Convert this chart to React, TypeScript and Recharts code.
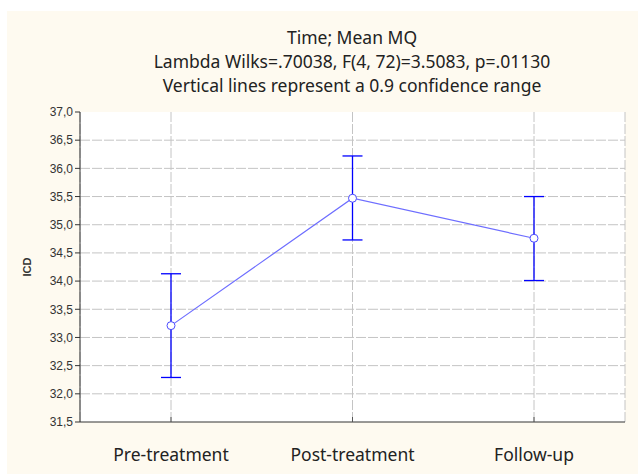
import {
  ComposedChart,
  Line,
  ErrorBar,
  XAxis,
  YAxis,
  CartesianGrid,
  ReferenceLine,
} from "recharts";

const categories = ["Pre-treatment", "Post-treatment", "Follow-up"];
const means = [33.21, 35.47, 34.76];
const ciLow = [32.29, 34.73, 34.01];
const ciHigh = [34.13, 36.22, 35.5];
const yTicks = [31.5, 32, 32.5, 33, 33.5, 34, 34.5, 35, 35.5, 36, 36.5, 37];
const titleLines = [
  "Time; Mean MQ",
  "Lambda Wilks=.70038, F(4, 72)=3.5083, p=.01130",
  "Vertical lines represent a 0.9 confidence range",
];

const data = categories.map((cat, i) => ({
  cat,
  mean: means[i],
  err: [means[i] - ciLow[i], ciHigh[i] - means[i]],
}));

const FONT = "'Noto Sans', sans-serif";
const GRID = "#c4c4c4";
const LINE_COLOR = "#6e6eff";
const BAR_COLOR = "#0000ff";

function CatTick({ x, y, payload }: { x?: number; y?: number; payload?: { value: string } }) {
  if (x == null || y == null || !payload) return null;
  return (
    <g>
      {/* small inward tick on the bottom frame */}
      <line x1={x} y1={y} x2={x} y2={y - 5} stroke="#555" strokeWidth={1} />
      <text
        x={x}
        y={y + 39}
        textAnchor="middle"
        fontFamily={FONT}
        fontSize={17.5}
        fill="#222"
      >
        {payload.value}
      </text>
    </g>
  );
}

export default function App() {
  return (
    <div
      style={{
        position: "absolute",
        left: 0,
        top: 0,
        width: 638,
        height: 474,
        background: "#ffffff",
      }}
    >
      <div
        style={{
          position: "absolute",
          left: 7,
          top: 11,
          width: 631,
          height: 463,
          background: "#fefaf0",
        }}
      />
      {titleLines.map((t, i) => (
        <div
          key={t}
          style={{
            position: "absolute",
            left: 52,
            width: 600,
            top: 25 + i * 24,
            height: 24,
            lineHeight: "24px",
            textAlign: "center",
            fontFamily: FONT,
            fontSize: 17.5,
            color: "#222",
            whiteSpace: "nowrap",
          }}
        >
          {t}
        </div>
      ))}
      <div style={{ position: "absolute", left: 0, top: 0 }}>
        <ComposedChart
          width={638}
          height={474}
          data={data}
          margin={{ top: 112, right: 13, bottom: 0, left: 0 }}
        >
          <CartesianGrid
            stroke={GRID}
            strokeDasharray="10 2"
            fill="#ffffff"
            fillOpacity={1}
            horizontal={false}
          />
          {/* horizontal grid at every y tick */}
          {yTicks.slice(1, -1).map((v) => (
            <ReferenceLine
              key={v}
              y={v}
              stroke={GRID}
              strokeDasharray="10 2"
              strokeWidth={1}
            />
          ))}
          <XAxis
            dataKey="cat"
            height={52}
            padding={{ left: 91, right: 91 }}
            tickLine={false}
            tickSize={0}
            tickMargin={0}
            tick={<CatTick />}
            axisLine={{ stroke: "#333" }}
          />
          <XAxis
            xAxisId="top"
            dataKey="cat"
            orientation="top"
            height={0}
            padding={{ left: 91, right: 91 }}
            tick={false}
            tickLine={false}
            axisLine={{ stroke: "#333" }}
          />
          <YAxis
            domain={[31.5, 37]}
            ticks={yTicks}
            width={80}
            tickSize={5}
            tickMargin={2}
            interval={0}
            allowDataOverflow
            axisLine={{ stroke: "#333" }}
            tickLine={{ stroke: "#333" }}
            tick={{ fontSize: 12, fill: "#333", fontFamily: "'Liberation Sans', Arial, sans-serif" }}
            tickFormatter={(v: number) => v.toFixed(1).replace(".", ",")}
            label={{
              value: "ICD",
              angle: -90,
              position: "insideLeft",
              offset: 27,
              style: {
                fontSize: 11,
                fontWeight: "bold",
                fill: "#333",
                fontFamily: "'Liberation Sans', Arial, sans-serif",
                textAnchor: "middle",
              },
            }}
          />
          <YAxis
            yAxisId="right"
            orientation="right"
            width={0}
            domain={[31.5, 37]}
            tick={false}
            tickLine={false}
            axisLine={{ stroke: "#333" }}
          />
          <Line
            type="linear"
            dataKey="mean"
            stroke={LINE_COLOR}
            strokeWidth={1.2}
            dot={{ r: 4, fill: "#ffffff", stroke: "#4a4aff", strokeWidth: 1 }}
            activeDot={false}
            isAnimationActive={false}
          >
            <ErrorBar
              dataKey="err"
              direction="y"
              width={10}
              stroke={BAR_COLOR}
              strokeWidth={1.3}
              isAnimationActive={false}
            />
          </Line>
        </ComposedChart>
      </div>
    </div>
  );
}
